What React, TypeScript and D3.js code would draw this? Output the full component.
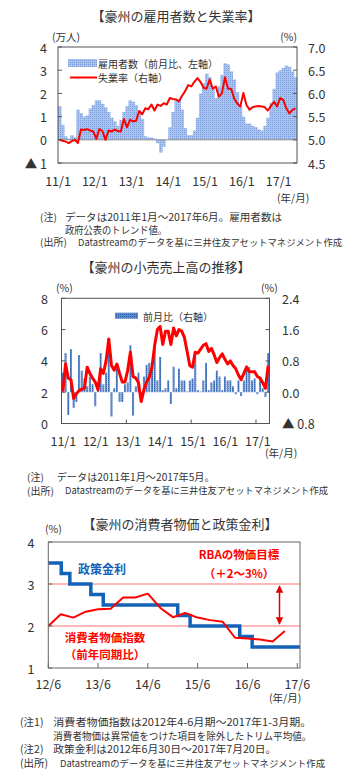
import React from "react";
import * as d3 from "d3";

const FONT = "'Noto Sans CJK JP', 'Noto Sans', sans-serif";
const TXT = "#333";

// ---------------- Chart 1: employment & unemployment (2011/1 - 2017/6) ----------------
const employmentChange = [
  1.45, 0.65, 0.15, 0.05, 0.2, 0.12, 1.3, 1.15, 1.0, 1.05, 1.35, 1.5,
  1.7, 1.7, 1.55, 1.4, 1.2, 0.95, 0.8, 0.6, 0.85, 1.2, 1.45, 1.7,
  1.65, 1.5, 1.25, 0.9, 0.15, 0.1, 0.1, 0.05, -0.15, -0.55, -0.3, 0.0,
  0.55, 1.2, 1.7, 1.75, 1.3, 0.5, 0.2, 0.2, 0.4, 0.95, 2.0, 2.45,
  2.85, 2.7, 2.2, 1.8, 2.3, 2.8, 3.3, 3.25, 2.95, 2.6, 2.05, 1.5,
  1.0, 0.7, 0.7, 0.6, 0.55, 0.45, 0.4, 0.6, 0.95, 1.6, 2.2, 2.9,
  3.0, 3.1, 3.2, 3.15, 2.95, 2.7,
];
const unemploymentRate = [
  5.0, 4.98, 4.96, 4.93, 4.97, 5.0, 4.93, 5.22, 5.21, 5.23, 5.2, 5.18,
  5.02, 5.23, 5.19, 5.0, 5.2, 5.18, 5.22, 5.19, 5.18, 5.45, 5.27, 5.43,
  5.4, 5.41, 5.62, 5.55, 5.68, 5.66, 5.76, 5.63, 5.76, 5.73, 5.79, 5.76,
  5.9, 5.88, 5.87, 5.83, 5.95, 6.05, 6.18, 6.15, 6.25, 6.33, 6.25, 6.12,
  6.1, 6.3, 6.1, 6.15, 5.93, 6.0, 6.35, 6.1, 6.1, 5.89, 5.78, 5.72,
  6.01, 5.75, 5.65, 5.7, 5.72, 5.73, 5.72, 5.7, 5.63, 5.73, 5.82, 5.72,
  5.9, 5.86, 5.68, 5.57, 5.64, 5.68,
];
const empXTickLabels = ["11/1", "12/1", "13/1", "14/1", "15/1", "16/1", "17/1"];
const empLeftTicks = [4, 3, 2, 1, 0, -1];
const empRightTicks = [7.0, 6.5, 6.0, 5.5, 5.0, 4.5];

// ---------------- Chart 2: retail sales (2011/1 - 2017/5) ----------------
const retailMoM = [
  0.5, 1.0, -0.58, 1.1, -0.4, -0.25, 0.95, 0.55, 0.35, 0.15, 0.4, 0.2,
  -0.36, 0.2, 1.0, 0.2, 0.5, 1.05, -0.62, 0.1, 0.6, -0.25, -0.25, 0.2,
  0.25, 1.2, -0.6, 0.15, 0.5, -0.25, 0.4, 0.7, 0.75, 0.8, 1.12, 0.3,
  0.9, 0.05, 0.1, 0.3, -0.3, 0.65, 0.1, 0.6, 0.3, 0.3, 0.02, 0.3,
  0.35, 1.0, 0.05, 0.02, 0.3, 0.75, 0.05, 0.25, 0.3, 0.55, 0.4, 0.05,
  0.4, 0.3, 0.3, 0.15, -0.05, 0.3, -0.1, 0.3, 0.68, 0.65, 0.3, 0.35,
  -0.05, 0.35, 0.1, -0.12, 1.0,
];
const retailYoY = [
  2.05, 3.8, 2.9, 2.8, 1.6, 1.9, 2.1, 2.2, 2.25, 3.6, 3.2, 2.9,
  2.65, 2.15, 3.5, 3.2, 4.0, 5.4, 3.7, 3.4, 3.8, 3.2, 2.65, 2.65,
  3.4, 4.55, 3.0, 2.9, 2.6, 1.4, 2.15, 2.65, 2.95, 3.6, 5.0, 6.0,
  6.2, 5.05, 5.9, 5.9, 5.05, 6.1, 5.6, 6.0, 5.9, 5.5, 4.6, 3.7,
  3.6, 4.55, 4.5, 4.75, 5.0, 5.1, 4.6, 4.8, 4.4, 3.9, 4.2, 4.45,
  4.1, 3.8, 4.0, 3.7, 3.5, 3.1, 2.8, 3.2, 3.6, 3.3, 3.3, 3.3,
  3.0, 2.9, 2.6, 2.25, 3.7,
];
const retailXTickLabels = ["11/1", "12/1", "13/1", "14/1", "15/1", "16/1", "17/1"];
const retailLeftTicks = [8, 6, 4, 2, 0];
const retailRightTicks = [2.4, 1.6, 0.8, 0.0, -0.8];

// ---------------- Chart 3: CPI & policy rate ----------------
const cpiDates = [
  "2012-06-30", "2012-09-30", "2012-12-31", "2013-03-31", "2013-06-30",
  "2013-09-30", "2013-12-31", "2014-03-31", "2014-06-30", "2014-09-30",
  "2014-12-31", "2015-03-31", "2015-06-30", "2015-09-30", "2015-12-31",
  "2016-03-31", "2016-06-30", "2016-09-30", "2016-12-31", "2017-03-31",
];
const cpiValues = [
  2.0, 2.28, 2.2, 2.34, 2.4, 2.41, 2.68, 2.68, 2.77, 2.43,
  2.21, 2.31, 2.2, 2.14, 2.1, 1.72, 1.7, 1.68, 1.63, 1.88,
];
const rateDates = [
  "2012-06-30", "2012-10-03", "2012-12-05", "2013-05-08", "2013-08-07",
  "2015-02-04", "2015-05-06", "2016-05-04", "2016-08-03", "2017-07-20",
];
const rateValues = [3.5, 3.25, 3.0, 2.75, 2.5, 2.25, 2.0, 1.75, 1.5, 1.5];
const cpiXTickDates = ["2012-06-30", "2013-06-30", "2014-06-30", "2015-06-30", "2016-06-30", "2017-06-30"];
const cpiXTickLabels = ["12/6", "13/6", "14/6", "15/6", "16/6", "17/6"];
const cpiYTicks = [4, 3, 2, 1];
const targetBand = [3, 2];

const parse = d3.timeParse("%Y-%m-%d");

function T(props: any) {
  const { children, w, ...rest } = props;
  const extra = w ? { textLength: w, lengthAdjust: "spacingAndGlyphs" } : {};
  return (
    <text fontFamily={FONT} fill={TXT} dominantBaseline="central" {...extra} {...rest}>
      {children}
    </text>
  );
}

export default function App() {
  // ---------- chart 1 ----------
  const c1 = { l: 58, r: 297, t: 47, b: 163 };
  const x1 = d3.scaleBand<number>().domain(employmentChange.map((_, i) => i)).range([c1.l, c1.r]);
  const y1L = d3.scaleLinear().domain([-1, 4]).range([c1.b, c1.t]);
  const y1R = d3.scaleLinear().domain([4.5, 7]).range([c1.b, c1.t]);
  const bw1 = x1.bandwidth();
  const line1 = d3
    .line<number>()
    .x((_, i) => (x1(i) as number) + bw1 / 2)
    .y((d) => y1R(d));

  // ---------- chart 2 ----------
  const c2 = { l: 61.5, r: 269.5, t: 298.3, b: 423.5 };
  const x2 = d3.scaleBand<number>().domain(retailMoM.map((_, i) => i)).range([c2.l, c2.r]);
  const y2L = d3.scaleLinear().domain([0, 8]).range([c2.b, c2.t]);
  const y2R = d3.scaleLinear().domain([-0.8, 2.4]).range([c2.b, c2.t]);
  const bw2 = x2.bandwidth();
  const line2 = d3
    .line<number>()
    .x((_, i) => (x2(i) as number) + bw2 / 2)
    .y((d) => y2L(d));

  // ---------- chart 3 ----------
  const c3 = { l: 48.3, r: 300, t: 542, b: 668 };
  const x3 = d3
    .scaleTime()
    .domain([parse("2012-06-30") as Date, parse("2017-07-20") as Date])
    .range([c3.l, c3.r]);
  const y3 = d3.scaleLinear().domain([1, 4]).range([c3.b, c3.t]);
  const rateLine = d3
    .line<number>()
    .x((_, i) => x3(parse(rateDates[i]) as Date))
    .y((d) => y3(d))
    .curve(d3.curveStepAfter);
  const cpiLine = d3
    .line<number>()
    .x((_, i) => x3(parse(cpiDates[i]) as Date))
    .y((d) => y3(d));

  const arrowX = 279.5;
  const NS = 10.5;
  const NN = 10;
  const NSrc = 9.3;

  return (
    <svg
      width={355}
      height={779}
      style={{ position: "absolute", left: 0, top: 0, background: "#fff" }}
    >
      <defs>
        <pattern id="dots1" width="2" height="2" patternUnits="userSpaceOnUse">
          <rect width="2" height="2" fill="#a9c3ee" />
          <rect width="1" height="1" fill="#7b9ddb" />
        </pattern>
        <pattern id="dots2" width="2" height="2" patternUnits="userSpaceOnUse">
          <rect width="2" height="2" fill="#5b8bd0" />
          <rect width="1" height="1" fill="#2f5ea8" />
        </pattern>
        <marker id="arrowHead" viewBox="0 0 10 10" refX="9" refY="5" markerWidth="5" markerHeight="6" orient="auto-start-reverse">
          <path d="M0,0 L10,5 L0,10 z" fill="#e00000" />
        </marker>
      </defs>

      {/* ================= Chart 1 ================= */}
      <T x={176} y={15} fontSize={13} textAnchor="middle">【豪州の雇用者数と失業率】</T>
      <T x={52} y={36} fontSize={NS}>(万人)</T>
      <T x={297} y={36} fontSize={NS} textAnchor="end">(%)</T>

      {employmentChange.map((v, i) => (
        <rect
          key={i}
          x={x1(i) as number}
          width={bw1 + 0.4}
          y={Math.min(y1L(v), y1L(0))}
          height={Math.abs(y1L(v) - y1L(0))}
          fill="url(#dots1)"
        />
      ))}
      <line x1={c1.l} x2={c1.r} y1={y1L(0)} y2={y1L(0)} stroke="#8c8c8c" strokeWidth={1} />
      <path d={line1(unemploymentRate) || ""} fill="none" stroke="#ff0000" strokeWidth={2} strokeLinejoin="round" />
      <rect x={c1.l} y={c1.t} width={c1.r - c1.l} height={c1.b - c1.t} fill="none" stroke="#555" strokeWidth={1} />
      {empLeftTicks.map((v) => (
        <g key={"l1" + v}>
          <line x1={c1.l} x2={c1.l + 4} y1={y1L(v)} y2={y1L(v)} stroke="#555" />
          <T x={47} y={y1L(v)} fontSize={12.5} textAnchor="end">{v < 0 ? "▲ " + Math.abs(v) : String(v)}</T>
        </g>
      ))}
      {empRightTicks.map((v) => (
        <g key={"r1" + v}>
          <line x1={c1.r - 4} x2={c1.r} y1={y1R(v)} y2={y1R(v)} stroke="#555" />
          <T x={308} y={y1R(v)} fontSize={12.5}>{v.toFixed(1)}</T>
        </g>
      ))}
      {empXTickLabels.map((s, k) => (
        <T key={s} x={x1(k * 12) as number} y={180} fontSize={12.5} textAnchor="middle">{s}</T>
      ))}
      <T x={277} y={197.5} fontSize={NS}>(年/月)</T>
      {/* legend */}
      <rect x={68} y={59} width={29} height={8} fill="url(#dots1)" />
      <T x={98} y={63} fontSize={10}>雇用者数（前月比、左軸）</T>
      <line x1={70} x2={97} y1={77.5} y2={77.5} stroke="#ff0000" strokeWidth={2} />
      <T x={98} y={77.5} fontSize={10}>失業率（右軸）</T>
      {/* notes */}
      <T x={40} y={216.7} fontSize={NN}>(注)</T>
      <T x={65} y={216.7} fontSize={NN} w={217}>データは2011年1月～2017年6月。雇用者数は</T>
      <T x={65} y={229} fontSize={NN} w={102}>政府公表のトレンド値。</T>
      <T x={40} y={241.7} fontSize={NN}>(出所)</T>
      <T x={78} y={241.7} fontSize={NSrc} w={264}>Datastreamのデータを基に三井住友アセットマネジメント作成</T>

      {/* ================= Chart 2 ================= */}
      <T x={166} y={266.7} fontSize={13} textAnchor="middle">【豪州の小売売上高の推移】</T>
      <T x={56} y={287.5} fontSize={NS}>(%)</T>
      <T x={261} y={287.5} fontSize={NS}>(%)</T>

      {retailMoM.map((v, i) => (
        <rect
          key={i}
          x={(x2(i) as number) + bw2 / 2 - 1}
          width={2}
          y={Math.min(y2R(v), y2R(0))}
          height={Math.abs(y2R(v) - y2R(0))}
          fill="url(#dots2)"
        />
      ))}
      <path d={line2(retailYoY) || ""} fill="none" stroke="#ff0000" strokeWidth={3} strokeLinejoin="round" />
      <rect x={c2.l} y={c2.t} width={c2.r - c2.l} height={c2.b - c2.t} fill="none" stroke="#555" strokeWidth={1} />
      {retailLeftTicks.map((v) => (
        <g key={"l2" + v}>
          <line x1={c2.l} x2={c2.l + 4} y1={y2L(v)} y2={y2L(v)} stroke="#555" />
          <T x={48} y={y2L(v)} fontSize={12.5} textAnchor="end">{String(v)}</T>
        </g>
      ))}
      {retailRightTicks.map((v) => (
        <g key={"r2" + v}>
          <line x1={c2.r - 4} x2={c2.r} y1={y2R(v)} y2={y2R(v)} stroke="#555" />
          <T x={282} y={y2R(v)} fontSize={12.5}>{v < 0 ? "▲ " + Math.abs(v).toFixed(1) : v.toFixed(1)}</T>
        </g>
      ))}
      {[24, 48, 72].map((m) => (
        <line key={"t2" + m} x1={x2(m) as number} x2={x2(m) as number} y1={c2.b} y2={c2.b - 4} stroke="#555" />
      ))}
      {retailXTickLabels.map((s, k) => (
        <T key={s} x={(x2(k * 12) as number) + bw2 / 2 + 0.5} y={440} fontSize={12.5} textAnchor="middle">{s}</T>
      ))}
      <T x={265} y={452.5} fontSize={NS}>(年/月)</T>
      {/* legend */}
      <rect x={115} y={312.7} width={23} height={6} fill="url(#dots2)" />
      <T x={143} y={316} fontSize={10}>前月比（右軸）</T>
      {/* notes */}
      <T x={27} y={476.7} fontSize={NN}>(注)</T>
      <T x={56.7} y={476.7} fontSize={NN} w={158}>データは2011年1月～2017年5月。</T>
      <T x={27} y={490} fontSize={NN}>(出所)</T>
      <T x={65} y={490} fontSize={NSrc} w={263}>Datastreamのデータを基に三井住友アセットマネジメント作成</T>

      {/* ================= Chart 3 ================= */}
      <T x={180} y={523.3} fontSize={13} textAnchor="middle">【豪州の消費者物価と政策金利】</T>
      <T x={45} y={528} fontSize={NS}>(%)</T>

      {targetBand.map((v) => (
        <line key={"tb" + v} x1={c3.l} x2={c3.r} y1={y3(v)} y2={y3(v)} stroke="#ff7070" strokeWidth={1} />
      ))}
      <path d={rateLine(rateValues) || ""} fill="none" stroke="#1462b8" strokeWidth={3.5} />
      <path d={cpiLine(cpiValues) || ""} fill="none" stroke="#ff0000" strokeWidth={2} strokeLinejoin="round" />
      <rect x={c3.l} y={c3.t} width={c3.r - c3.l} height={c3.b - c3.t} fill="none" stroke="#666" strokeWidth={1} />
      {cpiYTicks.map((v) => (
        <g key={"l3" + v}>
          <line x1={c3.l} x2={c3.l + 4} y1={y3(v)} y2={y3(v)} stroke="#666" />
          <T x={34.5} y={y3(v)} fontSize={12.5} textAnchor="end">{String(v)}</T>
        </g>
      ))}
      {cpiXTickDates.map((d, k) => {
        const xx = x3(parse(d) as Date);
        return (
          <g key={d}>
            <line x1={xx} x2={xx} y1={c3.b} y2={c3.b - 5} stroke="#666" />
            <T x={xx} y={683} fontSize={12.5} textAnchor="middle">{cpiXTickLabels[k]}</T>
          </g>
        );
      })}
      <T x={269} y={697} fontSize={NS}>(年/月)</T>
      {/* annotations */}
      <T x={78} y={568} fontSize={12} fill="#1462b8" fontWeight="bold">政策金利</T>
      <T x={239} y={554} fontSize={11.5} fill="#ff0000" fontWeight="bold" textAnchor="middle">RBAの物価目標</T>
      <T x={239} y={573} fontSize={11.5} fill="#ff0000" fontWeight="bold" textAnchor="middle">（＋2～3%）</T>
      <line
        x1={arrowX}
        x2={arrowX}
        y1={y3(3) + 2}
        y2={y3(2) - 2}
        stroke="#e00000"
        strokeWidth={1.5}
        markerStart="url(#arrowHead)"
        markerEnd="url(#arrowHead)"
      />
      <T x={105} y={636.7} fontSize={11.5} fill="#ff0000" fontWeight="bold" textAnchor="middle">消費者物価指数</T>
      <T x={105} y={654} fontSize={11.5} fill="#ff0000" fontWeight="bold" textAnchor="middle">（前年同期比）</T>
      {/* notes */}
      <T x={20} y={721.7} fontSize={10.5}>(注1)</T>
      <T x={53.3} y={721.7} fontSize={10.5} w={258}>消費者物価指数は2012年4-6月期～2017年1-3月期。</T>
      <T x={53.3} y={735.5} fontSize={10.5} w={258}>消費者物価は異常値をつけた項目を除外したトリム平均値。</T>
      <T x={20} y={748.5} fontSize={10.5}>(注2)</T>
      <T x={53.3} y={748.5} fontSize={10.5} w={223}>政策金利は2012年6月30日～2017年7月20日。</T>
      <T x={20} y={762.5} fontSize={10.5}>(出所)</T>
      <T x={60} y={762.5} fontSize={NSrc} w={265}>Datastreamのデータを基に三井住友アセットマネジメント作成</T>
    </svg>
  );
}
